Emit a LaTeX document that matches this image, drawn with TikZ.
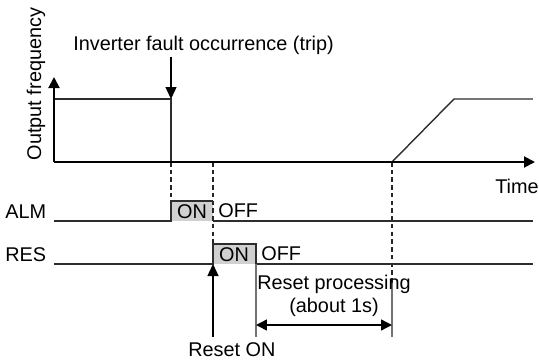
\documentclass[tikz,border=0pt]{standalone}
\usepackage{fontspec}
\setmainfont{Liberation Sans}
\usetikzlibrary{calc,arrows.meta,positioning}
\definecolor{sigline}{RGB}{45,45,45}
\definecolor{onfill}{RGB}{208,208,208}
\tikzset{
  tlabel/.style={font=\fontsize{11.3}{13.4}\selectfont, inner sep=0pt, text=black},
  taxis/.style ={line width=1.1pt, black, -{Triangle[length=2.2mm, width=2.2mm]}},
  tsig/.style  ={line width=0.8pt, sigline, line join=miter},
  tdash/.style ={line width=0.7pt, black!85, dash pattern=on 2.6pt off 1.8pt},
  tgrey/.style ={line width=0.8pt, black!55},
  onbox/.style ={fill=onfill, draw=none},
  tarrow/.style={line width=0.8pt, black, -{Triangle[length=2.4mm, width=2.2mm]}},
  tspan/.style ={line width=0.8pt, black, {Triangle[length=2.2mm, width=2.2mm]}-{Triangle[length=2.2mm, width=2.2mm]}},
}
\begin{document}
\begin{tikzpicture}[x=0.02cm, y=-0.02cm]
  \useasboundingbox (0,0) rectangle (539,360);
  % axes
  \coordinate (o)    at (54,162);
  \coordinate (ytop) at (54,77);
  \coordinate (xend) at (535,162);
  % time marks
  \coordinate (tTrip)  at (171,162);
  \coordinate (tReset) at (213,162);
  \coordinate (tProc)  at (256,162);
  \coordinate (tRun)   at (392,162);
  \coordinate (tFull)  at (454,99);
  % signal levels
  \coordinate (alm)  at (54,221);
  \coordinate (res)  at (54,264);
  \coordinate (span) at (54,325);
  \coordinate (low)  at (54,337);
  \coordinate (trigA) at (171,57);

  % ON boxes
  \fill[onbox] (tTrip |- 0,201) rectangle (tReset |- alm);
  \fill[onbox] (tReset |- 0,244) rectangle (tProc |- res);

  % dashed time marks
  \draw[tdash] (tTrip) -- (tTrip |- 0,201);
  \draw[tdash] (tReset) -- (tReset |- 0,244);
  \draw[tdash] (tRun) -- (tRun |- 0,283);
  \draw[tgrey] (tRun |- 0,283) -- (tRun |- low);

  % output frequency
  \draw[tsig] (o |- tFull) -- (tTrip |- tFull) -- (tTrip);
  \draw[tsig] (tRun) -- (tFull) -- (533,99);
  \draw[taxis] (o) -- (ytop);
  \draw[taxis] (o) -- (xend);

  % ALM and RES
  \draw[tsig] (alm) -- (tTrip |- alm) -- (tTrip |- 0,201) -- (tReset |- 0,201);
  \draw[tsig] (tReset |- alm) -- (533,221);
  \draw[tsig] (res) -- (tReset |- res) -- (tReset |- 0,244) -- (tProc |- 0,244)
    -- (tProc |- res) -- (533,264);
  \draw[tgrey] (tProc |- res) -- (tProc |- low);

  % labels
  \node[tlabel, rotate=90] (freq) at (36,84) {Output frequency};
  \node[tlabel, anchor=west] (trip) at (73,45) {Inverter fault occurrence (trip)};
  \node[tlabel, anchor=east] (time) at (539,186) {Time};
  \node[tlabel, anchor=west] (almname) at (5,212) {ALM};
  \node[tlabel, anchor=west] (resname) at (5,255) {RES};
  \node[tlabel] (almon) at (192,212) {ON};
  \node[tlabel, anchor=west] (almoff) at (218,211) {OFF};
  \node[tlabel] (reson) at (234,255) {ON};
  \node[tlabel, anchor=west] (resoff) at (261,254) {OFF};
  \node[tlabel, align=center] (proc) at (334,296) {Reset processing\\(about 1s)};
  \node[tlabel, anchor=west] (resetOn) at (188,350) {Reset ON};

  % arrows
  \draw[tarrow] (trigA) -- (tTrip |- tFull);
  \draw[tarrow] (tReset |- low) -- (tReset |- res);
  \draw[tspan] (tProc |- span) -- (tRun |- span);
\end{tikzpicture}
\end{document}
